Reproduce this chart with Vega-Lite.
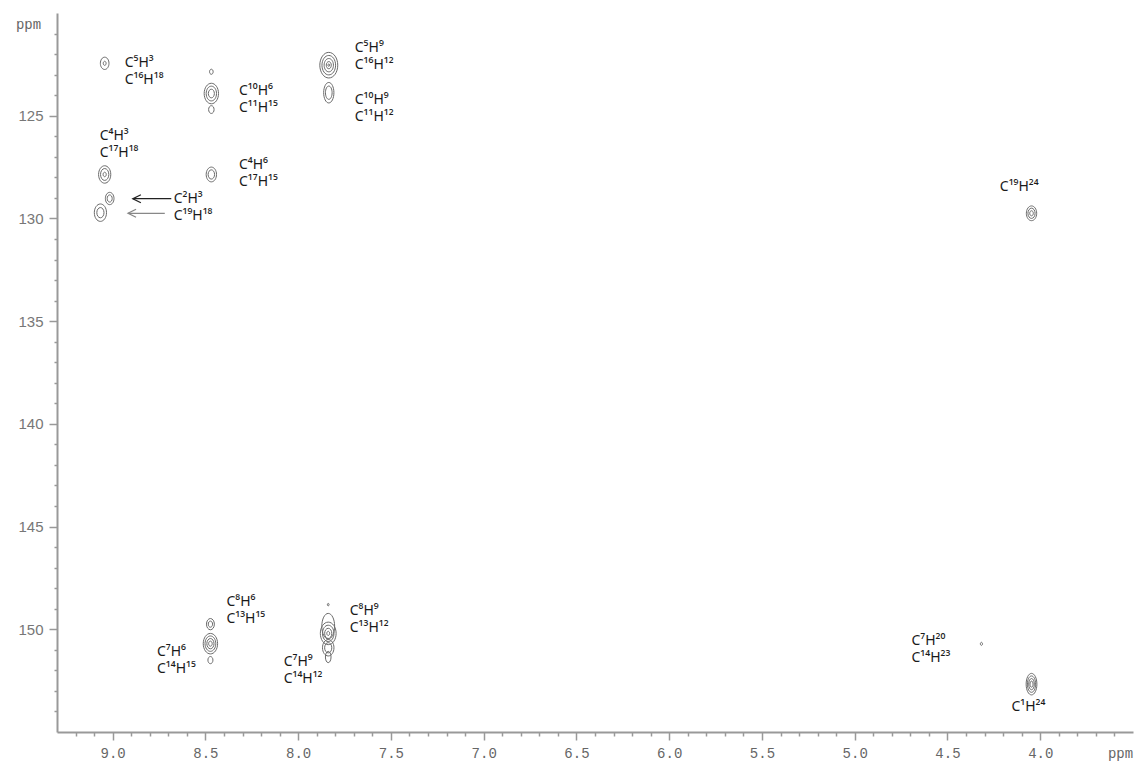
{
  "$schema": "https://vega.github.io/schema/vega-lite/v6.json",
  "width": 1076,
  "height": 719,
  "autosize": {"type": "none"},
  "padding": {"left": 57, "top": 13, "right": 2, "bottom": 33},
  "background": "white",
  "config": {"view": {"stroke": null}},
  "datasets": {
    "peaks": [
      {"x": 9.043, "y": 122.45, "span": 0.6, "form": "oval"},
      {"x": 9.043, "y": 122.45, "span": 0.2, "form": "oval"},
      {"x": 9.043, "y": 127.86, "span": 0.85, "form": "oval"},
      {"x": 9.043, "y": 127.86, "span": 0.58, "form": "oval"},
      {"x": 9.043, "y": 127.86, "span": 0.22, "form": "oval"},
      {"x": 9.016, "y": 129.03, "span": 0.6, "form": "oval"},
      {"x": 9.016, "y": 129.03, "span": 0.35, "form": "oval"},
      {"x": 9.066, "y": 129.72, "span": 0.85, "form": "oval"},
      {"x": 9.066, "y": 129.72, "span": 0.5, "form": "oval"},
      {"x": 8.468, "y": 123.92, "span": 1.0, "form": "oval"},
      {"x": 8.468, "y": 123.92, "span": 0.72, "form": "oval"},
      {"x": 8.468, "y": 123.92, "span": 0.42, "form": "oval"},
      {"x": 8.468, "y": 122.86, "span": 0.25, "form": "oval"},
      {"x": 8.468, "y": 124.7, "span": 0.38, "form": "oval"},
      {"x": 8.468, "y": 127.86, "span": 0.72, "form": "oval"},
      {"x": 8.468, "y": 127.86, "span": 0.45, "form": "oval"},
      {"x": 7.835, "y": 122.54, "span": 1.25, "form": "oval"},
      {"x": 7.835, "y": 122.54, "span": 0.95, "form": "oval"},
      {"x": 7.835, "y": 122.54, "span": 0.65, "form": "oval"},
      {"x": 7.835, "y": 122.54, "span": 0.35, "form": "oval"},
      {"x": 7.835, "y": 122.54, "span": 0.12, "form": "oval"},
      {"x": 7.835, "y": 123.88, "span": 1.0, "form": "thin"},
      {"x": 7.835, "y": 123.88, "span": 0.65, "form": "thin"},
      {"x": 4.047, "y": 129.75, "span": 0.72, "form": "oval"},
      {"x": 4.047, "y": 129.75, "span": 0.5, "form": "oval"},
      {"x": 4.047, "y": 129.75, "span": 0.25, "form": "oval"},
      {"x": 8.473, "y": 149.75, "span": 0.55, "form": "oval"},
      {"x": 8.473, "y": 149.75, "span": 0.3, "form": "oval"},
      {"x": 8.473, "y": 150.7, "span": 1.0, "form": "oval"},
      {"x": 8.473, "y": 150.7, "span": 0.75, "form": "oval"},
      {"x": 8.473, "y": 150.7, "span": 0.5, "form": "oval"},
      {"x": 8.473, "y": 150.7, "span": 0.25, "form": "oval"},
      {"x": 8.473, "y": 151.5, "span": 0.35, "form": "oval"},
      {"x": 7.838, "y": 148.8, "span": 0.12, "form": "oval"},
      {"x": 7.838, "y": 149.85, "span": 1.25, "form": "thin"},
      {"x": 7.838, "y": 150.2, "span": 1.1, "form": "oval"},
      {"x": 7.838, "y": 150.2, "span": 0.8, "form": "oval"},
      {"x": 7.838, "y": 150.2, "span": 0.5, "form": "oval"},
      {"x": 7.838, "y": 150.2, "span": 0.2, "form": "oval"},
      {"x": 7.838, "y": 150.9, "span": 0.8, "form": "oval"},
      {"x": 7.838, "y": 150.9, "span": 0.5, "form": "oval"},
      {"x": 7.838, "y": 151.35, "span": 0.55, "form": "thin"},
      {"x": 4.317, "y": 150.71, "span": 0.15, "form": "oval"},
      {"x": 4.047, "y": 152.67, "span": 1.05, "form": "thin"},
      {"x": 4.047, "y": 152.67, "span": 0.8, "form": "thin"},
      {"x": 4.047, "y": 152.67, "span": 0.55, "form": "thin"},
      {"x": 4.047, "y": 152.67, "span": 0.3, "form": "thin"}
    ],
    "labels": [
      {"x": 8.935, "y": 122.45, "t": "C⁵H³\nC¹⁶H¹⁸"},
      {"x": 8.319, "y": 123.79, "t": "C¹⁰H⁶\nC¹¹H¹⁵"},
      {"x": 9.07, "y": 126.0, "t": "C⁴H³\nC¹⁷H¹⁸"},
      {"x": 8.319, "y": 127.42, "t": "C⁴H⁶\nC¹⁷H¹⁵"},
      {"x": 8.671, "y": 129.04, "t": "C²H³\nC¹⁹H¹⁸"},
      {"x": 7.695, "y": 121.72, "t": "C⁵H⁹\nC¹⁶H¹²"},
      {"x": 7.695, "y": 124.25, "t": "C¹⁰H⁹\nC¹¹H¹²"},
      {"x": 4.218, "y": 128.48, "t": "C¹⁹H²⁴"},
      {"x": 8.387, "y": 148.65, "t": "C⁸H⁶\nC¹³H¹⁵"},
      {"x": 8.761, "y": 151.12, "t": "C⁷H⁶\nC¹⁴H¹⁵"},
      {"x": 7.722, "y": 149.1, "t": "C⁸H⁹\nC¹³H¹²"},
      {"x": 8.078, "y": 151.58, "t": "C⁷H⁹\nC¹⁴H¹²"},
      {"x": 4.694, "y": 150.57, "t": "C⁷H²⁰\nC¹⁴H²³"},
      {"x": 4.155, "y": 153.77, "t": "C¹H²⁴"}
    ],
    "arrows": [
      {"x": 8.891, "x2": 8.684, "y": 129.04, "arrow": "a"},
      {"x": 8.917, "x2": 8.719, "y": 129.75, "arrow": "b"}
    ]
  },
  "encoding": {
    "x": {
      "field": "x",
      "type": "quantitative",
      "scale": {"domain": [3.5, 9.3], "reverse": true, "nice": false, "zero": false},
      "axis": {
        "values": [9.2, 9.1, 9.0, 8.9, 8.8, 8.7, 8.6, 8.5, 8.4, 8.3, 8.2, 8.1, 8.0, 7.9, 7.8, 7.7, 7.6, 7.5, 7.4, 7.3, 7.2, 7.1, 7.0, 6.9, 6.8, 6.7, 6.6, 6.5, 6.4, 6.3, 6.2, 6.1, 6.0, 5.9, 5.8, 5.7, 5.6, 5.5, 5.4, 5.3, 5.2, 5.1, 5.0, 4.9, 4.8, 4.7, 4.6, 4.5, 4.4, 4.3, 4.2, 4.1, 4.0, 3.9, 3.8, 3.7, 3.6],
        "tickSize": {"condition": {"test": "round(datum.value*10) % 5 === 0", "value": 8}, "value": 4},
        "labelExpr": "round(datum.value*10) % 5 === 0 ? format(datum.value, '.1f') : ''",
        "labelFont": "Liberation Mono",
        "labelFontSize": 14,
        "labelColor": "#666",
        "labelPadding": 6,
        "labelOverlap": false,
        "labelFlush": false,
        "domainColor": "#999",
        "domainWidth": 2,
        "tickColor": "#999",
        "tickWidth": 1.5,
        "grid": false,
        "title": "ppm",
        "titleFont": "Liberation Mono",
        "titleFontSize": 14,
        "titleFontWeight": "normal",
        "titleColor": "#666",
        "titleX": 1063,
        "titleY": 21,
        "titleAlign": "center",
        "titleBaseline": "middle",
        "titleAngle": 0
      }
    },
    "y": {
      "field": "y",
      "type": "quantitative",
      "scale": {"domain": [120, 155], "reverse": true, "nice": false, "zero": false},
      "axis": {
        "values": [121, 122, 123, 124, 125, 126, 127, 128, 129, 130, 131, 132, 133, 134, 135, 136, 137, 138, 139, 140, 141, 142, 143, 144, 145, 146, 147, 148, 149, 150, 151, 152, 153, 154],
        "tickSize": {"condition": {"test": "datum.value % 5 === 0", "value": 8}, "value": 3},
        "labelExpr": "datum.value % 5 === 0 ? datum.label : ''",
        "labelFont": "Liberation Sans",
        "labelFontSize": 15,
        "labelColor": "#777",
        "labelPadding": 6,
        "labelOverlap": false,
        "labelFlush": false,
        "domainColor": "#999",
        "domainWidth": 2,
        "tickColor": "#999",
        "tickWidth": 1.5,
        "grid": false,
        "title": "ppm",
        "titleFont": "Liberation Mono",
        "titleFontSize": 14,
        "titleFontWeight": "normal",
        "titleColor": "#666",
        "titleX": -29,
        "titleY": 11,
        "titleAlign": "center",
        "titleBaseline": "middle",
        "titleAngle": 0
      }
    }
  },
  "layer": [
    {
      "data": {"name": "peaks"},
      "mark": {"type": "point", "filled": false, "stroke": "#6a6a6a", "strokeWidth": 1, "opacity": 1},
      "encoding": {
        "size": {"field": "span", "type": "quantitative", "scale": {"type": "pow", "exponent": 2, "domain": [0, 1], "range": [0, 420], "zero": true}, "legend": null},
        "shape": {"field": "form", "type": "nominal", "scale": {"domain": ["oval", "thin"], "range": ["M0,-1C0.387,-1 0.7,-0.552 0.7,0C0.7,0.552 0.387,1 0,1C-0.387,1 -0.7,0.552 -0.7,0C-0.7,-0.552 -0.387,-1 0,-1Z", "M0,-1C0.276,-1 0.5,-0.552 0.5,0C0.5,0.552 0.276,1 0,1C-0.276,1 -0.5,0.552 -0.5,0C-0.5,-0.552 -0.276,-1 0,-1Z"]}, "legend": null}
      }
    },
    {
      "data": {"name": "labels"},
      "mark": {"type": "text", "align": "left", "baseline": "middle", "font": "Noto Sans", "fontSize": 14, "color": "#1a1a1a", "lineBreak": "\n", "lineHeight": 17},
      "encoding": {"text": {"field": "t", "type": "nominal"}}
    },
    {
      "data": {"name": "arrows"},
      "mark": {"type": "rule", "strokeWidth": 1.3},
      "encoding": {
        "x2": {"field": "x2"},
        "color": {"field": "arrow", "type": "nominal", "scale": {"domain": ["a", "b"], "range": ["#222222", "#888888"]}, "legend": null}
      }
    },
    {
      "data": {"name": "arrows"},
      "mark": {"type": "point", "filled": false, "strokeWidth": 1.3, "size": 64, "shape": "M2,-1L0,0L2,1", "opacity": 1},
      "encoding": {
        "color": {"field": "arrow", "type": "nominal", "scale": {"domain": ["a", "b"], "range": ["#222222", "#888888"]}, "legend": null}
      }
    }
  ]
}
